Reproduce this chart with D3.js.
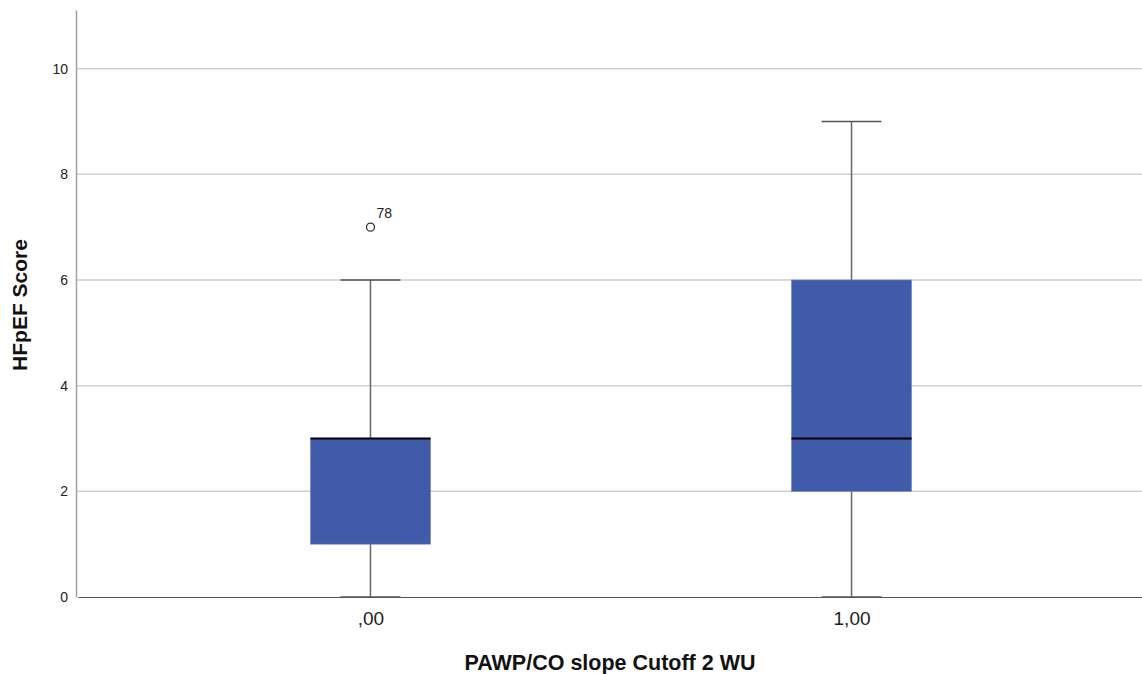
<!DOCTYPE html>
<html>
<head>
<meta charset="utf-8">
<script src="https://cdn.jsdelivr.net/npm/d3@7"></script>
<style>
  body { margin: 0; background: #fff; }
  text { font-family: Arial, "Liberation Sans", sans-serif; }
</style>
</head>
<body>
<div id="chart"></div>
<script>
// Data
const groups = [",00", "1,00"];
const whiskerLow = [0, 0];
const q1 = [1, 2];
const median = [3, 3];
const q3 = [3, 6];
const whiskerHigh = [6, 9];
const outlierGroup = [",00"];
const outlierValue = [7];
const outlierLabel = ["78"];
const yTicks = [0, 2, 4, 6, 8, 10];

function main() {
    const width = 1142, height = 674;
    const margin = {top: 10, right: 0, bottom: 77, left: 76};
    const innerW = width - margin.left - margin.right;
    const innerH = height - margin.top - margin.bottom;

    const svg = d3.select("#chart")
        .append("svg")
        .attr("width", width)
        .attr("height", height);

    const g = svg.append("g")
        .attr("transform", `translate(${margin.left},${margin.top})`);

    const x = d3.scalePoint()
        .domain(groups)
        .range([2, innerW + 2])
        .padding(0.608);

    const y = d3.scaleLinear()
        .domain([0, 11.11])
        .range([innerH, 0]);

    const boxW = 120, capW = 60;

    // Gridlines
    g.append("g")
        .selectAll("line")
        .data(yTicks.filter(d => d > 0))
        .join("line")
        .attr("x1", 0)
        .attr("x2", innerW)
        .attr("y1", d => y(d))
        .attr("y2", d => y(d))
        .attr("stroke", "#cfcfcf")
        .attr("stroke-width", 1.5);

    // Y axis
    const yAxis = g.append("g")
        .call(d3.axisLeft(y).tickValues(yTicks).tickSize(0).tickPadding(8).tickFormat(d3.format("d")));
    yAxis.select(".domain").attr("stroke", "#a0a0a0").attr("stroke-width", 1.5);
    yAxis.selectAll("text").style("font-size", "14px").attr("fill", "#222");

    // X axis
    const xAxis = g.append("g")
        .attr("transform", `translate(0,${innerH})`)
        .call(d3.axisBottom(x).tickSize(0).tickPadding(15));
    xAxis.select(".domain").attr("stroke", "#555").attr("stroke-width", 1.2);
    xAxis.selectAll("text").style("font-size", "19px").attr("fill", "#222");

    const cx = d => x(d);

    const boxes = g.append("g")
        .selectAll("g")
        .data(groups.map((k, i) => ({k, i})))
        .join("g");

    // Whisker stems
    boxes.append("line")
        .attr("x1", d => cx(d.k))
        .attr("x2", d => cx(d.k))
        .attr("y1", d => y(whiskerLow[d.i]))
        .attr("y2", d => y(whiskerHigh[d.i]))
        .attr("stroke", "#666")
        .attr("stroke-width", 1.5);

    // Whisker caps
    boxes.selectAll(".cap")
        .data(d => [whiskerLow[d.i], whiskerHigh[d.i]].map(v => ({k: d.k, v})))
        .join("line")
        .attr("class", "cap")
        .attr("x1", d => cx(d.k) - capW / 2)
        .attr("x2", d => cx(d.k) + capW / 2)
        .attr("y1", d => y(d.v))
        .attr("y2", d => y(d.v))
        .attr("stroke", "#555")
        .attr("stroke-width", 1.5);

    // Boxes
    boxes.append("rect")
        .attr("x", d => cx(d.k) - boxW / 2)
        .attr("width", boxW)
        .attr("y", d => y(q3[d.i]))
        .attr("height", d => y(q1[d.i]) - y(q3[d.i]))
        .attr("fill", "#3f5ba9")
        .attr("stroke", "#6c84c4")
        .attr("stroke-width", 0.6);

    // Medians
    boxes.append("line")
        .attr("x1", d => cx(d.k) - boxW / 2)
        .attr("x2", d => cx(d.k) + boxW / 2)
        .attr("y1", d => y(median[d.i]))
        .attr("y2", d => y(median[d.i]))
        .attr("stroke", "#000")
        .attr("stroke-width", 2.2);

    // Outliers
    const outliers = outlierValue.map((v, i) => ({k: outlierGroup[i], v, lab: outlierLabel[i]}));

    g.append("g")
        .selectAll("circle")
        .data(outliers)
        .join("circle")
        .attr("cx", d => cx(d.k))
        .attr("cy", d => y(d.v))
        .attr("r", 4)
        .attr("fill", "#fff")
        .attr("stroke", "#333")
        .attr("stroke-width", 1.3);

    g.append("g")
        .selectAll("text")
        .data(outliers)
        .join("text")
        .attr("x", d => cx(d.k) + 6)
        .attr("y", d => y(d.v) - 9)
        .style("font-size", "14px")
        .attr("fill", "#222")
        .text(d => d.lab);

    // Axis titles
    svg.append("text")
        .attr("transform", `translate(27,${305}) rotate(-90)`)
        .attr("text-anchor", "middle")
        .style("font-size", "21px")
        .style("font-weight", "bold")
        .attr("fill", "#111")
        .text("HFpEF Score");

    svg.append("text")
        .attr("x", 610)
        .attr("y", 670)
        .attr("text-anchor", "middle")
        .style("font-size", "21.5px")
        .style("font-weight", "bold")
        .attr("fill", "#111")
        .text("PAWP/CO slope Cutoff 2 WU");
}

main();
</script>
</body>
</html>
